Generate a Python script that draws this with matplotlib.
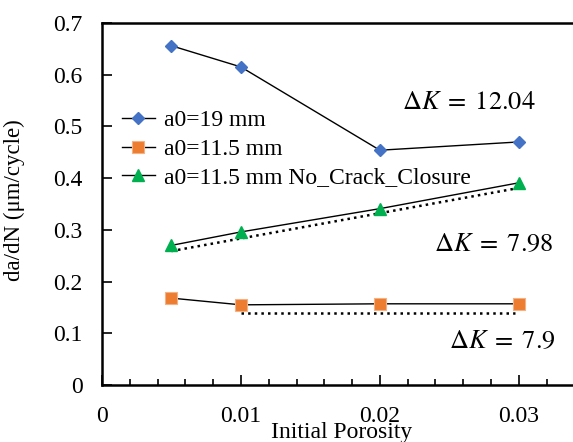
import matplotlib
matplotlib.use("Agg")
import matplotlib.pyplot as plt
from matplotlib.ticker import MultipleLocator

porosity = [0.005, 0.01, 0.02, 0.03]
a0_19 = [0.656, 0.615, 0.454, 0.470]
a0_115 = [0.168, 0.155, 0.157, 0.157]
a0_115_ncc = [0.270, 0.296, 0.341, 0.391]

dot_green_x = [0.005, 0.03]
dot_green_y = [0.259, 0.381]
dot_orange_x = [0.01, 0.0297]
dot_orange_y = [0.139, 0.139]

labels = ["a0=19 mm", "a0=11.5 mm", "a0=11.5 mm No_Crack_Closure"]
dk_labels = [r"$\Delta K\;=\;12.04$", r"$\Delta K\;=\;7.98$", r"$\Delta K\;=\;7.9$"]

plt.rcParams['font.family'] = ['Liberation Serif', 'DejaVu Serif']
plt.rcParams['mathtext.fontset'] = 'stix'

fig = plt.figure(figsize=(5.73, 4.42), dpi=100)
ax = fig.add_axes([102/573, 1-385/442, 1-102/573, (385-23)/442])

ax.plot(porosity, a0_19, '-', color='black', lw=1, marker='D', ms=6.5,
        mfc='#4472C4', mec='#4472C4', label=labels[0], zorder=3)
ax.plot(porosity, a0_115, '-', color='black', lw=1, marker='s', ms=8.2,
        mfc='#ED7D31', mec='#F4B183', mew=0.8, label=labels[1], zorder=3)
ax.plot(porosity, a0_115_ncc, '-', color='black', lw=1, marker='^', ms=8,
        mfc='#00B050', mec='#00B050', label=labels[2], zorder=3)
ax.plot(dot_green_x, dot_green_y, ':', color='black', lw=1.8, zorder=2)
ax.plot(dot_orange_x, dot_orange_y, ':', color='black', lw=1.8, zorder=2)

ax.set_xlim(0, 0.0339)
ax.set_ylim(0, 0.7)
ax.xaxis.set_minor_locator(MultipleLocator(0.002))
ax.set_xticks([0, 0.01, 0.02, 0.03])
ax.set_xticklabels(['0', '0.01', '0.02', '0.03'])
ax.set_yticks([0, 0.1, 0.2, 0.3, 0.4, 0.5, 0.6, 0.7])
ax.set_yticklabels(['0', '0.1', '0.2', '0.3', '0.4', '0.5', '0.6', '0.7'])
ax.tick_params(axis='x', which='major', direction='in', length=7, width=1.2, labelsize=17, pad=15)
ax.tick_params(axis='x', which='minor', direction='in', length=4, width=1.2)
ax.tick_params(axis='y', which='major', direction='in', length=7, width=1.2, labelsize=17, pad=14)
for s in ['left', 'bottom', 'top']:
    ax.spines[s].set_linewidth(1.8)
ax.spines['right'].set_visible(False)

ax.set_xlabel('Initial Porosity', fontsize=17)
ax.xaxis.set_label_coords((342-102)/471, -(37)/362)
ax.set_ylabel('da/dN (μm/cycle)', fontsize=16.5)
ax.yaxis.set_label_coords(-(102-25)/471, 0.51)

leg = ax.legend(loc='upper left', bbox_to_anchor=(0.042, 0.76), frameon=False,
                fontsize=17, handlelength=1.4, handletextpad=0.38, labelspacing=0.29,
                borderaxespad=0, borderpad=0)

ax.text(0.0264, 0.545, dk_labels[0], fontsize=19, ha='center', va='center')
ax.text(0.0282, 0.271, dk_labels[1], fontsize=19, ha='center', va='center')
ax.text(0.0288, 0.083, dk_labels[2], fontsize=19, ha='center', va='center')

fig.savefig('out.png', dpi=100)
